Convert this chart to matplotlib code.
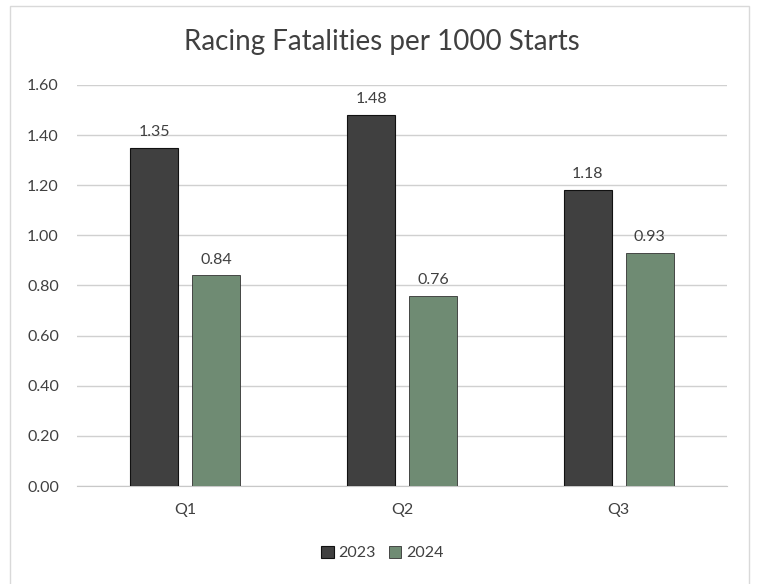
import matplotlib
matplotlib.use("Agg")
import matplotlib.pyplot as plt
import numpy as np
from matplotlib.patches import Rectangle

categories = ["Q1", "Q2", "Q3"]
series_names = ["2023", "2024"]
values_2023 = [1.35, 1.48, 1.18]
values_2024 = [0.84, 0.76, 0.93]
yticks = [0.0, 0.2, 0.4, 0.6, 0.8, 1.0, 1.2, 1.4, 1.6]

plt.rcParams['font.family'] = ['Lato', 'DejaVu Sans']

fig = plt.figure(figsize=(7.57, 5.84), dpi=100)
ax = fig.add_axes([0.1017, 0.1678, 0.8587, 0.6867])

x = np.arange(len(categories))
w = 0.222
off = 0.143
c1 = "#404040"
c2 = "#6f8b73"
b1 = ax.bar(x - off, values_2023, w, color=c1, edgecolor="#111111", linewidth=0.8, label=series_names[0], zorder=3)
b2 = ax.bar(x + off, values_2024, w, color=c2, edgecolor="#333333", linewidth=0.6, label=series_names[1], zorder=3)

for bars, vals in ((b1, values_2023), (b2, values_2024)):
    for r, v in zip(bars, vals):
        ax.text(r.get_x() + r.get_width() / 2, v + 0.035, f"{v:.2f}", ha="center", va="bottom",
                fontsize=11.5, color="#404040")

ax.set_xlim(-0.5, 2.5)
ax.set_ylim(0, 1.6)
ax.set_yticks(yticks)
ax.set_yticklabels([f"{t:.2f}" for t in yticks])
ax.set_xticks(x)
ax.set_xticklabels(categories)
ax.tick_params(axis="both", length=0, labelsize=11.5, labelcolor="#404040")
ax.tick_params(axis="x", pad=12)
ax.tick_params(axis="y", pad=13)
ax.grid(axis="y", color="#d0d0d0", linewidth=1, zorder=0)
for s in ["top", "right", "left"]:
    ax.spines[s].set_visible(False)
ax.spines["bottom"].set_color("#c8c8c8")

fig.text(0.505, 0.928, "Racing Fatalities per 1000 Starts", ha="center", va="center",
         fontsize=20, color="#404040")

leg = fig.legend(loc="center", bbox_to_anchor=(0.505, 0.053), ncol=2, frameon=False,
                 fontsize=11.5, handlelength=0.8, handleheight=0.8, handletextpad=0.3,
                 columnspacing=0.8, labelcolor="#404040")

fig.patches.append(Rectangle((10 / 757, -0.01), 739 / 757, 1 - 6 / 584 + 0.01, transform=fig.transFigure,
                             fill=False, edgecolor="#d9d9d9", linewidth=1))

fig.savefig("out.png", dpi=100)
